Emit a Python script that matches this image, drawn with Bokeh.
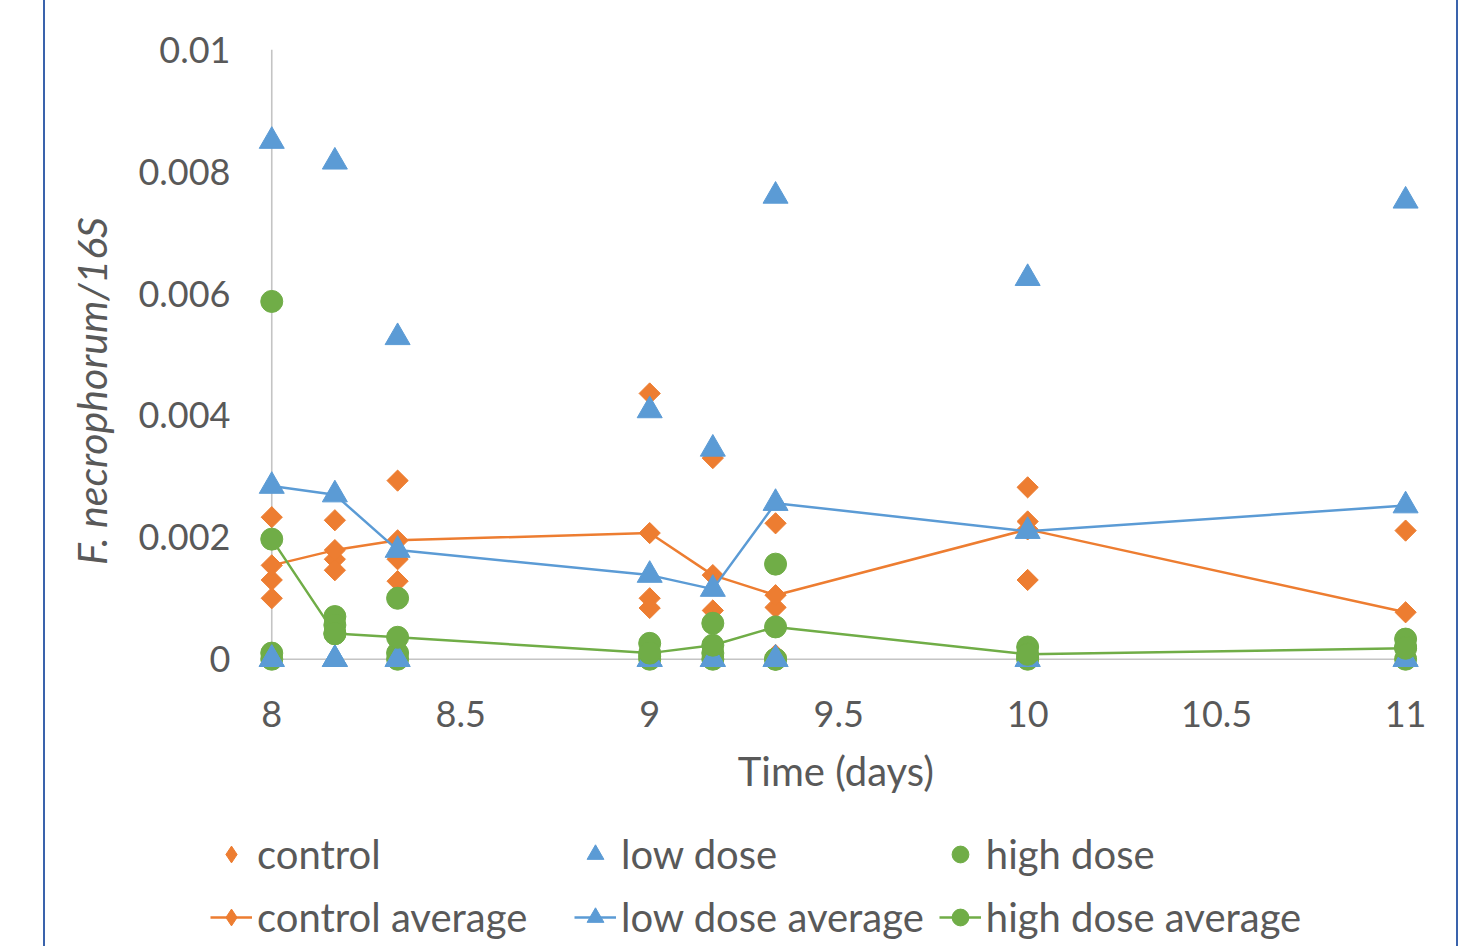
import numpy as np
from bokeh.plotting import figure
from bokeh.layouts import column
from bokeh.models import (FixedTicker, CustomJSTickFormatter, Legend, LegendItem, Range1d)
from bokeh.embed import file_html
from bokeh.resources import INLINE

# ---------------- data ----------------
times = [8, 8.167, 8.333, 9, 9.167, 9.333, 10, 11]

control_a = [0.00233, 0.00228, 0.00293, 0.00436, 0.00330, 0.00223, 0.00282, 0.00211]
control_b = [0.00130, 0.00164, 0.00164, 0.00100, 0.00080, 0.00085, 0.00226, 0.00015]
control_c = [0.00100, 0.00146, 0.00128, 0.00084, 0.00005, 0.00007, 0.00130, 0.00005]

low_a = [0.00850, 0.00816, 0.00528, 0.00408, 0.00345, 0.00760, 0.00625, 0.00752]
low_b = [0, 0, 0, 0, 0, 0, 0, 0]
low_c = [0, 0, 0, 0, 0, 0, 0, 0]

high_a = [0.00587, 0.00070, 0.00100, 0.00026, 0.00059, 0.00156, 0.00020, 0.00033]
high_b = [0.00010, 0.00056, 0.00010, 0.00005, 0.00010, 0.00000, 0.00003, 0.00020]
high_c = [0.00000, 0.00042, 0.00000, 0.00000, 0.00000, 0.00000, 0.00000, 0.00000]

control_avg = [0.00154, 0.00179, 0.00195, 0.00207, 0.00138, 0.00105, 0.00213, 0.00077]
low_avg = [0.00284, 0.00270, 0.00179, 0.00138, 0.00115, 0.00256, 0.00210, 0.00252]
high_avg = [0.00197, 0.00042, 0.00036, 0.00010, 0.00023, 0.00053, 0.00008, 0.00018]

x_ticks = [8, 8.5, 9, 9.5, 10, 10.5, 11]
y_ticks = [0, 0.002, 0.004, 0.006, 0.008, 0.01]

ORANGE = "#ED7D31"
BLUE = "#5B9BD5"
GREEN = "#70AD47"
TEXT = "#595959"
AXIS = "#C4C4C4"
FONT = "Lato"
FS_TICK = "36px"
FS_TEXT = "40px"
NB = "\u00a0"

p = figure(width=1411, height=820, x_range=Range1d(7.83, 11.05),
           y_range=Range1d(-0.0003, 0.0102), output_backend="svg",
           toolbar_location=None, min_border_left=162, min_border_right=32,
           min_border_top=37, min_border_bottom=143)
p.xgrid.visible = False
p.ygrid.visible = False
p.outline_line_color = None
p.background_fill_color = "white"
p.border_fill_color = "white"

fmt = CustomJSTickFormatter(code="return tick.toString();")
for ax, ticks in ((p.xaxis, x_ticks), (p.yaxis, y_ticks)):
    ax.ticker = FixedTicker(ticks=ticks)
    ax.formatter = fmt
    ax.major_tick_line_color = None
    ax.minor_tick_line_color = None
    ax.axis_line_color = None
    ax.major_label_text_font = FONT
    ax.major_label_text_font_size = FS_TICK
    ax.major_label_text_color = TEXT
    ax.axis_label_text_font = FONT
    ax.axis_label_text_font_size = FS_TEXT
    ax.axis_label_text_color = TEXT

p.xaxis.major_label_standoff = 17
p.yaxis.major_label_standoff = -29
p.xaxis.axis_label = NB * 4 + "Time (days)"
p.xaxis.axis_label_text_font_style = "normal"
p.xaxis.axis_label_standoff = 17
p.yaxis.axis_label = "F. necrophorum/16S" + NB * 7
p.yaxis.axis_label_text_font_style = "italic"
p.yaxis.axis_label_text_font_size = "41px"
p.yaxis.axis_label_standoff = 19

# axis lines through x = 8 and y = 0 (Excel style crossing)
p.segment(x0=[x_ticks[0]], y0=[y_ticks[0]], x1=[x_ticks[0]], y1=[y_ticks[-1]],
          line_color=AXIS, line_width=1.6)
p.segment(x0=[x_ticks[0]], y0=[y_ticks[0]], x1=[x_ticks[-1]], y1=[y_ticks[0]],
          line_color=AXIS, line_width=1.6)

xs3 = list(times) * 3
DIAMOND = dict(marker="square", angle=np.pi / 4, size=15, color=ORANGE)
TRI = dict(marker="triangle", size=25, color=BLUE)
CIRC = dict(marker="circle", size=22, color=GREEN)

p.scatter(xs3, control_a + control_b + control_c, **DIAMOND)
p.scatter(xs3, high_a + high_b + high_c, **CIRC)
p.scatter(xs3, low_a + low_b + low_c, **TRI)

p.line(times, control_avg, color=ORANGE, line_width=2.5)
p.scatter(times, control_avg, **DIAMOND)
p.line(times, low_avg, color=BLUE, line_width=2.5)
p.scatter(times, low_avg, **TRI)
p.line(times, high_avg, color=GREEN, line_width=2.5)
p.scatter(times, high_avg, **CIRC)

# ---- legend strip below the chart (proxy renderers lie outside its 0..1 range) ----
q = figure(width=1411, height=126, x_range=Range1d(0, 1), y_range=Range1d(0, 1),
           output_backend="svg", toolbar_location=None,
           x_axis_type=None, y_axis_type=None,
           min_border_left=0, min_border_right=0, min_border_top=0, min_border_bottom=0)
q.xgrid.visible = False
q.ygrid.visible = False
q.outline_line_color = None
q.background_fill_color = "white"
q.border_fill_color = "white"

LDIAMOND = dict(marker="diamond", size=15, color=ORANGE)
g_c = q.scatter(xs3, control_a + control_b + control_c, **LDIAMOND)
g_l = q.scatter(xs3, low_a + low_b + low_c, **TRI)
g_h = q.scatter(xs3, high_a + high_b + high_c, **CIRC)
gl_c = q.line(times, control_avg, color=ORANGE, line_width=2.5)
gs_c = q.scatter(times, control_avg, **LDIAMOND)
gl_l = q.line(times, low_avg, color=BLUE, line_width=2.5)
gs_l = q.scatter(times, low_avg, **TRI)
gl_h = q.line(times, high_avg, color=GREEN, line_width=2.5)
gs_h = q.scatter(times, high_avg, **CIRC)

legend = Legend(items=[
    LegendItem(label="control", renderers=[g_c]),
    LegendItem(label="low dose", renderers=[g_l]),
    LegendItem(label="high dose", renderers=[g_h]),
    LegendItem(label="control average", renderers=[gl_c, gs_c]),
    LegendItem(label="low dose average", renderers=[gl_l, gs_l]),
    LegendItem(label="high dose average", renderers=[gl_h, gs_h]),
], orientation="horizontal", ncols=3, location=(3, 5),
    label_text_font=FONT, label_text_font_size=FS_TEXT, label_text_color=TEXT,
    glyph_width=42, glyph_height=48, label_height=48, label_width=302,
    label_standoff=5, spacing=15, padding=0, margin=0,
    border_line_color=None, background_fill_alpha=0)
q.add_layout(legend)

layout = column(p, q, margin=(0, 0, 0, 43), spacing=0,
                styles={"border-left": "2px solid #3A63AC",
                        "border-right": "2px solid #3A63AC"})

open("out.html", "w").write(file_html(layout, INLINE))
